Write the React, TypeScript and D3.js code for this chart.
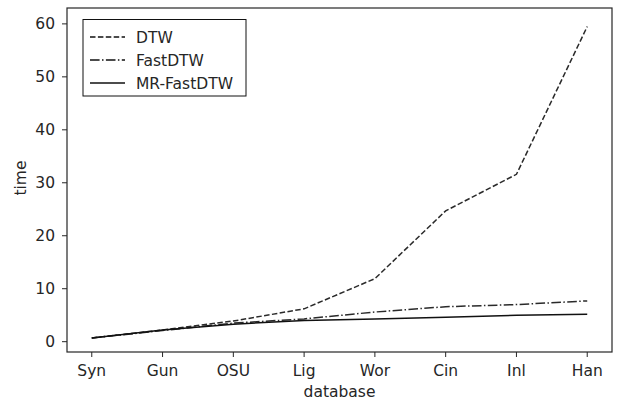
import React from "react";
import * as d3 from "d3";

const databases = ["Syn", "Gun", "OSU", "Lig", "Wor", "Cin", "Inl", "Han"];
const dtw = [0.7, 2.2, 3.9, 6.2, 11.9, 24.7, 31.6, 59.5];
const fastDtw = [0.7, 2.1, 3.5, 4.3, 5.6, 6.6, 7.0, 7.7];
const mrFastDtw = [0.7, 2.2, 3.3, 4.0, 4.3, 4.6, 5.0, 5.2];
const yTicks = [0, 10, 20, 30, 40, 50, 60];

const series = [
  { name: "DTW", values: dtw, dash: "5.5,2.4", color: "#2a2a2a" },
  { name: "FastDTW", values: fastDtw, dash: "9.6,2.4,1.5,2.4", color: "#2a2a2a" },
  { name: "MR-FastDTW", values: mrFastDtw, dash: null, color: "#111" },
];

const W = 620;
const H = 400;
const margin = { top: 8, right: 8, bottom: 48, left: 67 };
const font = "'DejaVu Sans', sans-serif";
const textColor = "#262626";
const fs = 15.5;

export default function App() {
  const x = d3
    .scaleLinear()
    .domain([-0.35, databases.length - 1 + 0.35])
    .range([margin.left, W - margin.right]);
  const y = d3
    .scaleLinear()
    .domain([-1.95, 63])
    .range([H - margin.bottom, margin.top]);

  const line = d3
    .line<number>()
    .x((_, i) => x(i))
    .y((d) => y(d));

  const x0 = margin.left;
  const x1 = W - margin.right;
  const y0 = H - margin.bottom;
  const y1 = margin.top;

  return (
    <svg
      width={W}
      height={H}
      style={{ position: "absolute", left: 0, top: 0, background: "#fff" }}
      fontFamily={font}
    >
      <rect x={0} y={0} width={W} height={H} fill="#fff" />

      {/* lines */}
      {series.map((s) => (
        <path
          key={s.name}
          d={line(s.values) || ""}
          fill="none"
          stroke={s.color}
          strokeWidth={1.5}
          strokeDasharray={s.dash || undefined}
        />
      ))}

      {/* frame */}
      <rect
        x={x0}
        y={y1}
        width={x1 - x0}
        height={y0 - y1}
        fill="none"
        stroke="#262626"
        strokeWidth={1.2}
      />

      {/* y axis */}
      {yTicks.map((t) => (
        <g key={t}>
          <line x1={x0 - 5} x2={x0} y1={y(t)} y2={y(t)} stroke="#262626" strokeWidth={1} />
          <text
            x={x0 - 12}
            y={y(t)}
            dy="0.36em"
            textAnchor="end"
            fontSize={fs}
            fill={textColor}
          >
            {t}
          </text>
        </g>
      ))}

      {/* x axis */}
      {databases.map((d, i) => (
        <g key={d}>
          <line x1={x(i)} x2={x(i)} y1={y0} y2={y0 + 5} stroke="#262626" strokeWidth={1} />
          <text
            x={x(i)}
            y={y0 + 24}
            textAnchor="middle"
            fontSize={fs}
            fill={textColor}
          >
            {d}
          </text>
        </g>
      ))}

      <text
        x={(x0 + x1) / 2}
        y={H - 3}
        textAnchor="middle"
        fontSize={fs}
        fill={textColor}
      >
        database
      </text>
      <text
        transform={`translate(26,${(y0 + y1) / 2 - 2}) rotate(-90)`}
        textAnchor="middle"
        fontSize={fs}
        fill={textColor}
      >
        time
      </text>

      {/* legend */}
      <rect x={83} y={19.5} width={163} height={76.5} fill="#fff" stroke="#111" strokeWidth={1} />
      {series.map((s, i) => {
        const ly = 37 + i * 23;
        return (
          <g key={s.name}>
            <line
              x1={90}
              x2={125}
              y1={ly}
              y2={ly}
              stroke="#111"
              strokeWidth={1.6}
              strokeDasharray={s.dash || undefined}
            />
            <text x={136} y={ly} dy="0.36em" fontSize={fs} fill={textColor}>
              {s.name}
            </text>
          </g>
        );
      })}
    </svg>
  );
}
